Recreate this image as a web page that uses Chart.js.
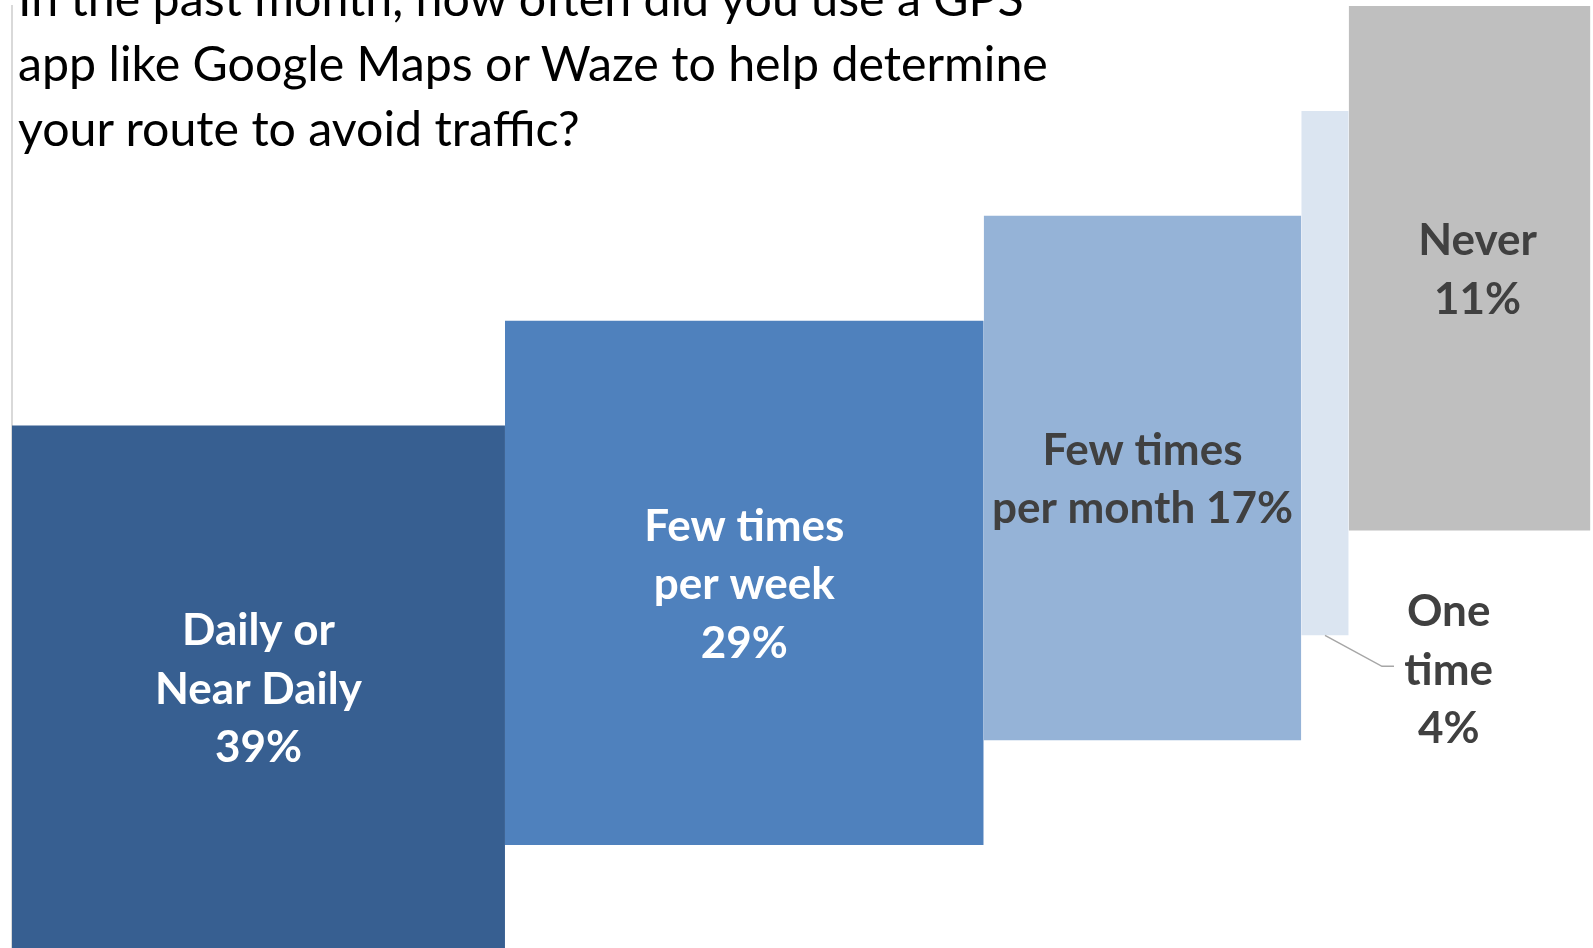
<!DOCTYPE html>
<html>
<head>
<meta charset="utf-8">
<script src="https://cdn.jsdelivr.net/npm/chart.js@4/dist/chart.umd.min.js"></script>
<style>
  html, body { margin: 0; padding: 0; background: #fff; overflow: hidden; }
  #wrap { position: relative; width: 1593px; height: 948px; overflow: hidden; }
  #c { position: absolute; left: 0; top: 0; }
  #title {
    position: absolute; left: 18px; top: -35px;
    font-family: Lato, "Open Sans", sans-serif; font-size: 48.3px; line-height: 65px;
    color: #000; white-space: nowrap;
  }
</style>
</head>
<body>
<div id="wrap">
  <canvas id="c" width="1593" height="952"></canvas>
  <div id="title">In the past month, how often did you use a GPS<br>app like Google Maps or Waze to help determine<br>your route to avoid traffic?</div>
</div>
<script>
// ---- data ----
const categories = ['Daily or Near Daily', 'Few times per week', 'Few times per month', 'One time', 'Never'];
const labelLines = [['Daily or', 'Near Daily'], ['Few times', 'per week'], ['Few times', 'per month'], ['One', 'time'], ['Never']];
const values = [39, 29, 17, 4, 11];                 // percent
const columnWidths = [31.2, 30.3, 20.1, 3.0, 15.3]; // column widths in x-axis units
const stepLow = [0, 1, 2, 3, 4];                    // bottom of each step (y units)
const stepHigh = [5, 6, 7, 8, 9];                   // top of each step (y units)
const colors = ['#375F91', '#4F81BD', '#95B3D7', '#DBE5F1', '#BFBFBF'];
const labelColors = ['#FFFFFF', '#FFFFFF', '#404040', '#404040', '#404040'];

// column starts from widths
const starts = [];
columnWidths.reduce((acc, w) => { starts.push(acc); return acc + w; }, 0);

const datasets = categories.map((cat, i) => ({
  label: cat,
  data: [{ x: starts[i], y: stepHigh[i] }, { x: starts[i] + columnWidths[i], y: stepHigh[i] }],
  showLine: true,
  fill: { value: stepLow[i] },
  backgroundColor: colors[i],
  borderColor: 'rgba(0,0,0,0)',
  borderWidth: 0,
  pointRadius: 0,
  pointHoverRadius: 0
}));

const labelPlugin = {
  id: 'stepLabels',
  afterDatasetsDraw(chart) {
    const { ctx, scales: { x, y } } = chart;
    const lh = 58.5;
    ctx.save();
    ctx.font = 'bold 44px Lato, "Open Sans", sans-serif';
    ctx.textAlign = 'center';
    ctx.textBaseline = 'middle';
    categories.forEach((cat, i) => {
      const x0 = x.getPixelForValue(starts[i]);
      const x1 = x.getPixelForValue(starts[i] + columnWidths[i]);
      const yTop = y.getPixelForValue(stepHigh[i]);
      const yBot = y.getPixelForValue(stepLow[i]);
      let lines = labelLines[i].slice();
      const pct = values[i] + '%';
      if (i === 2) lines[lines.length - 1] += ' ' + pct; else lines.push(pct);
      let cx = (x0 + x1) / 2;
      let cy = (yTop + yBot) / 2 + 2;
      if (i === 4) cx += 8;
      if (i === 3) {
        // small column: label placed outside with a leader line
        const sx = cx, sy = yBot;
        const ex = sx + 57, ey = yBot + 31;
        ctx.strokeStyle = '#A6A6A6';
        ctx.lineWidth = 1.5;
        ctx.beginPath();
        ctx.moveTo(sx, sy); ctx.lineTo(ex, ey); ctx.lineTo(ex + 12, ey);
        ctx.stroke();
        cx = x1 + 100;
        cy = yBot + 35;
      }
      ctx.fillStyle = labelColors[i];
      const n = lines.length;
      lines.forEach((t, k) => {
        ctx.fillText(t, cx, cy + (k - (n - 1) / 2) * lh);
      });
    });
    ctx.restore();
  }
};

new Chart(document.getElementById('c'), {
  type: 'scatter',
  data: { datasets },
  options: {
    responsive: false,
    animation: false,
    events: [],
    layout: { padding: { left: 12, top: 6, right: 1, bottom: 2 } },
    plugins: { legend: { display: false }, tooltip: { enabled: false } },
    scales: {
      x: { type: 'linear', min: 0, max: 100, display: false },
      y: {
        type: 'linear', min: 0, max: 9,
        ticks: { display: false },
        grid: { display: false, drawTicks: false },
        border: { display: true, color: '#D9D9D9', width: 2 }
      }
    }
  },
  plugins: [labelPlugin]
});
</script>
</body>
</html>
